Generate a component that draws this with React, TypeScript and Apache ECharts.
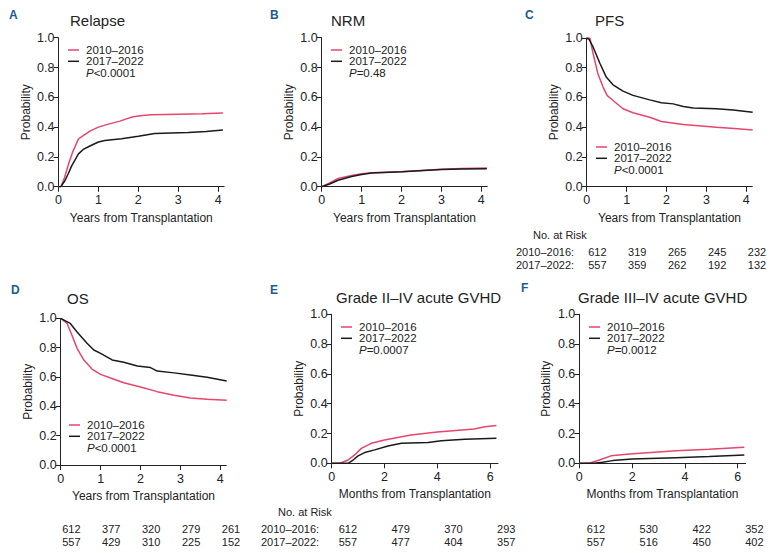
import React, { useEffect, useRef } from "react";
import * as echarts from "echarts";

const RED = "#e6466c";
const BLACK = "#1a1a1a";
const TEXT = "#222222";
const LETTER = "#1d5a94";
const FONT = "'Liberation Sans', Arial, Helvetica, sans-serif";

const groups = ["2010–2016", "2017–2022"];

// Relapse (years)
const relapse1016 = [[0,0],[0.06,0],[0.15,0.06],[0.25,0.15],[0.35,0.23],[0.5,0.32],[0.6,0.34],[0.8,0.375],[1.0,0.40],[1.25,0.42],[1.54,0.44],[1.7,0.455],[1.87,0.47],[2.1,0.478],[2.33,0.483],[3.0,0.486],[3.6,0.489],[4.12,0.494]];
const relapse1722 = [[0,0],[0.06,0],[0.16,0.04],[0.25,0.09],[0.33,0.14],[0.5,0.22],[0.62,0.25],[0.8,0.275],[1.0,0.30],[1.16,0.31],[1.58,0.322],[2.0,0.338],[2.41,0.357],[3.25,0.364],[3.7,0.37],[4.12,0.38]];
// NRM (years)
const nrm1016 = [[0,0],[0.2,0.025],[0.41,0.055],[0.75,0.075],[1.0,0.087],[1.25,0.094],[2.0,0.10],[3.0,0.117],[3.5,0.122],[4.14,0.125]];
const nrm1722 = [[0,0],[0.2,0.018],[0.41,0.043],[0.75,0.068],[1.0,0.082],[1.25,0.092],[2.0,0.10],[3.0,0.115],[3.5,0.118],[4.14,0.12]];
// PFS (years)
const pfs1016 = [[0,1],[0.08,1],[0.16,0.895],[0.28,0.76],[0.41,0.67],[0.51,0.614],[0.66,0.58],[0.91,0.524],[1.16,0.497],[1.58,0.467],[1.87,0.438],[2.42,0.418],[3.25,0.40],[3.7,0.392],[4.16,0.382]];
const pfs1722 = [[0,1],[0.06,0.99],[0.16,0.94],[0.33,0.83],[0.49,0.737],[0.66,0.685],[0.91,0.643],[1.16,0.614],[1.58,0.584],[1.87,0.564],[2.17,0.557],[2.42,0.539],[2.67,0.53],[3.25,0.524],[3.67,0.515],[4.16,0.501]];
// OS (years)
const os1016 = [[0,1],[0.16,0.965],[0.28,0.886],[0.41,0.795],[0.58,0.715],[0.79,0.652],[1.0,0.618],[1.25,0.593],[1.58,0.561],[2.0,0.532],[2.42,0.50],[2.84,0.475],[3.25,0.457],[3.67,0.448],[4.16,0.441]];
const os1722 = [[0,1],[0.24,0.965],[0.41,0.907],[0.66,0.83],[0.83,0.784],[1.0,0.761],[1.29,0.716],[1.58,0.70],[1.92,0.675],[2.25,0.664],[2.42,0.64],[2.84,0.628],[3.25,0.614],[3.67,0.598],[4.16,0.573]];
// Grade II–IV aGVHD (months)
const g24_1016 = [[0,0],[0.3,0],[0.37,0.004],[0.62,0.022],[0.87,0.056],[1.12,0.10],[1.5,0.134],[2.0,0.157],[3.0,0.19],[4.0,0.21],[5.4,0.23],[5.8,0.246],[6.24,0.253]];
const g24_1722 = [[0,0],[0.62,0],[0.81,0.022],[1.0,0.05],[1.25,0.072],[1.63,0.09],[2.13,0.116],[2.64,0.134],[3.65,0.139],[4.15,0.152],[5.04,0.161],[6.24,0.168]];
// Grade III–IV aGVHD (months)
const g34_1016 = [[0,0],[0.38,0],[0.76,0.022],[1.2,0.05],[1.9,0.063],[3.66,0.085],[4.92,0.094],[6.25,0.107]];
const g34_1722 = [[0,0],[0.57,0],[0.88,0.007],[1.26,0.018],[2.0,0.029],[3.66,0.038],[4.92,0.045],[6.25,0.056]];

// Tick values
const yearTicks = [0, 1, 2, 3, 4];
const monthTicks = [0, 2, 4, 6];
const probTicks = [0, 0.2, 0.4, 0.6, 0.8, 1.0];

// Numbers at risk
const pfsRisk1016 = [612, 319, 265, 245, 232];
const pfsRisk1722 = [557, 359, 262, 192, 132];
const osRisk1016 = [612, 377, 320, 279, 261];
const osRisk1722 = [557, 429, 310, 225, 152];
const g24Risk1016 = [612, 479, 370, 293];
const g24Risk1722 = [557, 477, 404, 357];
const g34Risk1016 = [612, 530, 422, 352];
const g34Risk1722 = [557, 516, 450, 402];

type Panel = {
  letter: string; title: string;
  letterX: number; letterY: number; titleX: number; titleY: number;
  left: number; top: number; height: number; xMax: number; ticks: number[]; interval: number; xName: string;
  s1016: number[][]; s1722: number[][];
  legX: number; legY: number; pText: string;
  risk?: { r1016: number[]; r1722: number[]; offset: number; rowY: number; header?: { x: number; labelX: number } };
};

const YEARS = "Years from Transplantation";
const MONTHS = "Months from Transplantation";

const panels: Panel[] = [
  { letter: "A", title: "Relapse", letterX: 9, letterY: 15, titleX: 70, titleY: 20,
    left: 58.5, top: 37.7, height: 149, xMax: 4.15, ticks: yearTicks, interval: 1, xName: YEARS,
    s1016: relapse1016, s1722: relapse1722, legX: 68, legY: 50, pText: "<0.0001" },
  { letter: "B", title: "NRM", letterX: 270, letterY: 15, titleX: 331, titleY: 20,
    left: 321.7, top: 37.7, height: 149, xMax: 4.15, ticks: yearTicks, interval: 1, xName: YEARS,
    s1016: nrm1016, s1722: nrm1722, legX: 331, legY: 50, pText: "=0.48" },
  { letter: "C", title: "PFS", letterX: 525, letterY: 15, titleX: 595, titleY: 20,
    left: 586.7, top: 38, height: 148.7, xMax: 4.15, ticks: yearTicks, interval: 1, xName: YEARS,
    s1016: pfs1016, s1722: pfs1722, legX: 596, legY: 147, pText: "<0.0001",
    risk: { r1016: pfsRisk1016, r1722: pfsRisk1722, offset: 1.5, rowY: 252, header: { x: 533, labelX: 516 } } },
  { letter: "D", title: "OS", letterX: 11, letterY: 290, titleX: 67, titleY: 298,
    left: 60.7, top: 318.3, height: 146.7, xMax: 4.15, ticks: yearTicks, interval: 1, xName: YEARS,
    s1016: os1016, s1722: os1722, legX: 69, legY: 425, pText: "<0.0001",
    risk: { r1016: osRisk1016, r1722: osRisk1722, offset: 1.5, rowY: 529 } },
  { letter: "E", title: "Grade II–IV acute GVHD", letterX: 270, letterY: 290, titleX: 336, titleY: 297,
    left: 331.7, top: 314.3, height: 149, xMax: 6.3, ticks: monthTicks, interval: 2, xName: MONTHS,
    s1016: g24_1016, s1722: g24_1722, legX: 341, legY: 327, pText: "=0.0007",
    risk: { r1016: g24Risk1016, r1722: g24Risk1722, offset: 7, rowY: 529, header: { x: 278, labelX: 261 } } },
  { letter: "F", title: "Grade III–IV acute GVHD", letterX: 521, letterY: 288, titleX: 578, titleY: 297,
    left: 579.3, top: 314.3, height: 149, xMax: 6.3, ticks: monthTicks, interval: 2, xName: MONTHS,
    s1016: g34_1016, s1722: g34_1722, legX: 589, legY: 327, pText: "=0.0012",
    risk: { r1016: g34Risk1016, r1722: g34Risk1722, offset: 7.5, rowY: 529 } },
];

const PX_PER_YEAR = 39.9;
const PX_PER_MONTH = 26.4;

export default function App() {
  const ref = useRef<HTMLDivElement>(null);
  useEffect(() => {
    document.body.style.margin = "0";
    if (!ref.current) return;
    const chart = echarts.init(ref.current, null, { renderer: "svg" });

    const grids: any[] = [];
    const xAxes: any[] = [];
    const yAxes: any[] = [];
    const series: any[] = [];
    const graphic: any[] = [];

    panels.forEach((p, i) => {
      const pxPerUnit = p.interval === 1 ? PX_PER_YEAR : PX_PER_MONTH;
      const width = p.xMax * pxPerUnit;
      grids.push({ left: p.left, top: p.top, width, height: p.height, containLabel: false });
      xAxes.push({
        gridIndex: i, type: "value", min: 0, max: p.xMax, interval: p.interval,
        axisLine: { show: true, onZero: false, lineStyle: { color: TEXT, width: 1 } },
        axisTick: { show: true, length: 5, customValues: p.ticks, lineStyle: { color: TEXT, width: 1 } },
        axisLabel: { customValues: p.ticks, margin: 7, fontSize: 12.5, color: TEXT, fontFamily: FONT },
        splitLine: { show: false },
        name: p.xName, nameLocation: "middle", nameGap: 25,
        nameTextStyle: { fontSize: 12, color: TEXT, fontFamily: FONT },
      });
      yAxes.push({
        gridIndex: i, type: "value", min: 0, max: 1, interval: 0.2,
        axisLine: { show: true, onZero: false, lineStyle: { color: TEXT, width: 1 } },
        axisTick: { show: true, length: 5, lineStyle: { color: TEXT, width: 1 } },
        axisLabel: { margin: 4, fontSize: 12.5, color: TEXT, fontFamily: FONT, formatter: (v: number) => v.toFixed(1), customValues: probTicks },
        splitLine: { show: false },
        name: "Probability", nameLocation: "middle", nameGap: 27,
        nameTextStyle: { fontSize: 12, color: TEXT, fontFamily: FONT },
      });
      series.push({
        name: groups[0], type: "line", xAxisIndex: i, yAxisIndex: i, data: p.s1016,
        symbol: "none", showSymbol: false, lineStyle: { color: RED, width: 1.5 }, itemStyle: { color: RED }, z: 3,
      });
      series.push({
        name: groups[1], type: "line", xAxisIndex: i, yAxisIndex: i, data: p.s1722,
        symbol: "none", showSymbol: false, lineStyle: { color: BLACK, width: 1.5 }, itemStyle: { color: BLACK }, z: 4,
      });

      // letter and title
      graphic.push({ type: "text", x: p.letterX, y: p.letterY,
        style: { text: p.letter, fontSize: 12, fontWeight: "bold", fill: LETTER, fontFamily: FONT, align: "left", verticalAlign: "middle" } });
      graphic.push({ type: "text", x: p.titleX, y: p.titleY,
        style: { text: p.title, fontSize: 15, fill: TEXT, fontFamily: FONT, align: "left", verticalAlign: "middle" } });

      // legend
      const lineLen = 11;
      [RED, BLACK].forEach((c, k) => {
        const y = p.legY + k * 11.3;
        graphic.push({ type: "line", shape: { x1: p.legX, y1: y, x2: p.legX + lineLen, y2: y }, style: { stroke: c, lineWidth: 1.5 } });
        graphic.push({ type: "text", x: p.legX + 18, y,
          style: { text: groups[k], fontSize: 11.5, fill: TEXT, fontFamily: FONT, align: "left", verticalAlign: "middle" } });
      });
      graphic.push({ type: "text", x: p.legX + 18, y: p.legY + 22.6,
        style: { text: "{i|P}" + p.pText, fontSize: 11.5, fill: TEXT, fontFamily: FONT, align: "left", verticalAlign: "middle",
          rich: { i: { fontStyle: "italic", fontSize: 11.5, fontFamily: FONT, fill: TEXT } } } });

      // risk table
      if (p.risk) {
        const r = p.risk;
        if (r.header) {
          graphic.push({ type: "text", x: r.header.x, y: r.rowY - 17,
            style: { text: "No. at Risk", fontSize: 11, fill: TEXT, fontFamily: FONT, align: "left", verticalAlign: "middle" } });
          graphic.push({ type: "text", x: r.header.labelX, y: r.rowY,
            style: { text: groups[0] + ":", fontSize: 11, fill: TEXT, fontFamily: FONT, align: "left", verticalAlign: "middle" } });
          graphic.push({ type: "text", x: r.header.labelX, y: r.rowY + 12.5,
            style: { text: groups[1] + ":", fontSize: 11, fill: TEXT, fontFamily: FONT, align: "left", verticalAlign: "middle" } });
        }
        p.ticks.forEach((t, k) => {
          const x = p.left + t * pxPerUnit + r.offset;
          graphic.push({ type: "text", x, y: r.rowY,
            style: { text: String(r.r1016[k]), fontSize: 11, fill: TEXT, fontFamily: FONT, align: "left", verticalAlign: "middle" } });
          graphic.push({ type: "text", x, y: r.rowY + 12.5,
            style: { text: String(r.r1722[k]), fontSize: 11, fill: TEXT, fontFamily: FONT, align: "left", verticalAlign: "middle" } });
        });
      }
    });

    chart.setOption({
      animation: false,
      backgroundColor: "#ffffff",
      grid: grids,
      xAxis: xAxes,
      yAxis: yAxes,
      series,
      graphic,
    });
    return () => chart.dispose();
  }, []);
  return <div ref={ref} style={{ width: 771, height: 553 }} />;
}
